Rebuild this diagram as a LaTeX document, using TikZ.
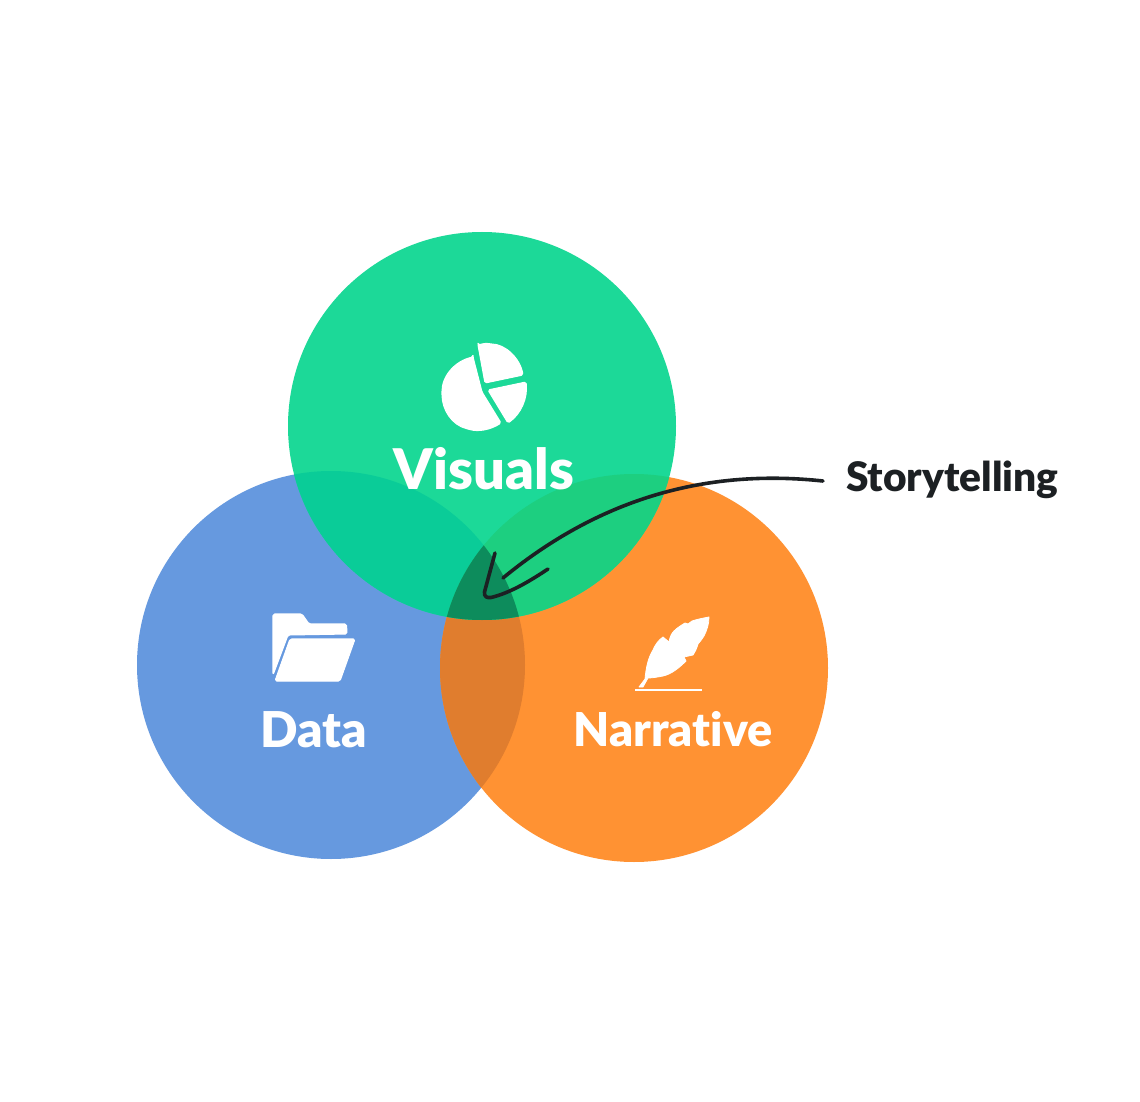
\documentclass[tikz,border=0pt]{standalone}
\usepackage{fontspec}
\setmainfont{Lato}[UprightFont={* Black},Ligatures=NoCommon]
\newfontfamily\heavyfont{Lato}[UprightFont={* Black},Ligatures=NoCommon]
\definecolor{cV}{HTML}{1CD998}
\definecolor{cD}{HTML}{6699DF}
\definecolor{cN}{HTML}{FF9233}
\definecolor{cVD}{HTML}{0ACC98}
\definecolor{cVN}{HTML}{1DCF80}
\definecolor{cDN}{HTML}{E07D2E}
\definecolor{cAll}{HTML}{0D8C5C}
\definecolor{ink}{HTML}{1C2023}
\tikzset{
  vlabel/.style={text=white,font=\fontsize{#1}{#1}\selectfont,inner sep=0pt,anchor=base},
  iconfill/.style={fill=white,draw=white,line width=0.8pt,line join=round,rounded corners=1.2pt},
  callout/.style={draw=ink,line width=2.7pt,line cap=round,line join=round},
}
\begin{document}
\begin{tikzpicture}[x=0.75pt,y=-0.75pt]
\useasboundingbox (0,0) rectangle (1140,1102);
\fill[white] (0,0) rectangle (1140,1102);
\def\cV{(482,426) circle[radius=145.5pt]}
\def\cD{(331,665) circle[radius=145.5pt]}
\def\cN{(634,668) circle[radius=145.5pt]}
\fill[cD] \cD;
\fill[cN] \cN;
\fill[cV] \cV;
\begin{scope}\clip \cD; \fill[cDN] \cN; \end{scope}
\begin{scope}\clip \cV; \fill[cVD] \cD; \fill[cVN] \cN; \end{scope}
\begin{scope}\clip \cV; \clip \cD; \fill[cAll] \cN; \end{scope}
% pie icon
\path[iconfill] (473,357) -- (482,392) -- (501,423) .. controls (490,430) and (478,432) .. (468,429)
  .. controls (452,425) and (442,410) .. (442,393) .. controls (442,376) and (455,361) .. (473,357) -- cycle;
\path[iconfill] (478,345) -- (485,383) -- (523,375) .. controls (520,358) and (505,344) .. (490,344) .. controls (486,343) and (482,344) .. (478,345) -- cycle;
\path[iconfill] (488,390) -- (526,382) .. controls (528,398) and (521,414) .. (508,423) -- cycle;
% folder icon
\path[iconfill] (273,614) -- (302,614) -- (309,624) -- (346.5,624) -- (347,634) -- (288,635) -- (273,675) -- cycle;
\path[iconfill] (290,639) -- (355,639) -- (340,681) -- (275,681) -- cycle;
% feather icon
\path[fill=white,draw=white,line width=0.6pt,line join=round] (639,687) -- (645,679) .. controls (646,668) and (648,658) .. (653,650)
  .. controls (656,643) and (659,640) .. (663,637) -- (669,642) .. controls (670,636) and (672,633) .. (674,631) .. controls (678,627) and (682,625) .. (685,623) -- (688,624) -- (692,621)
  .. controls (698,619) and (704,618) .. (709,617) .. controls (709,624) and (707,630) .. (704,636)
  .. controls (702,639) and (700,642) .. (698,644) .. controls (697,648) and (695,652) .. (693,655) -- (684,657) -- (686,661) .. controls (680,667) and (672,674) .. (663,676)
  .. controls (658,677) and (652,678) .. (648,678) -- (643,687) -- cycle;
\fill[white] (635,688.5) rectangle (702,690.5);
% labels
\node[vlabel=42] (visuals) at (484,489) {Visuals};
\node[vlabel=37] (data) at (314,747) {Data};
\node[vlabel=35] (narrative) at (673,746) {Narrative};
\node[font=\heavyfont\fontsize{30.5}{30.5}\selectfont,text=ink,inner sep=0pt,anchor=base west] (story) at (846,491) {Storytelling};
% callout
\coordinate (tail) at (823,481);
\coordinate (tip) at (503,578);
\coordinate (headA) at (495,553);
\coordinate (headB) at (548,569);
\draw[callout] (tail) .. controls (720,470) and (610,490) .. (tip);
\draw[callout] (headA) -- (484.5,592) .. controls (484,597) and (487,598) .. (491,597.5) .. controls (510,593) and (530,581) .. (headB);
\end{tikzpicture}
\end{document}
